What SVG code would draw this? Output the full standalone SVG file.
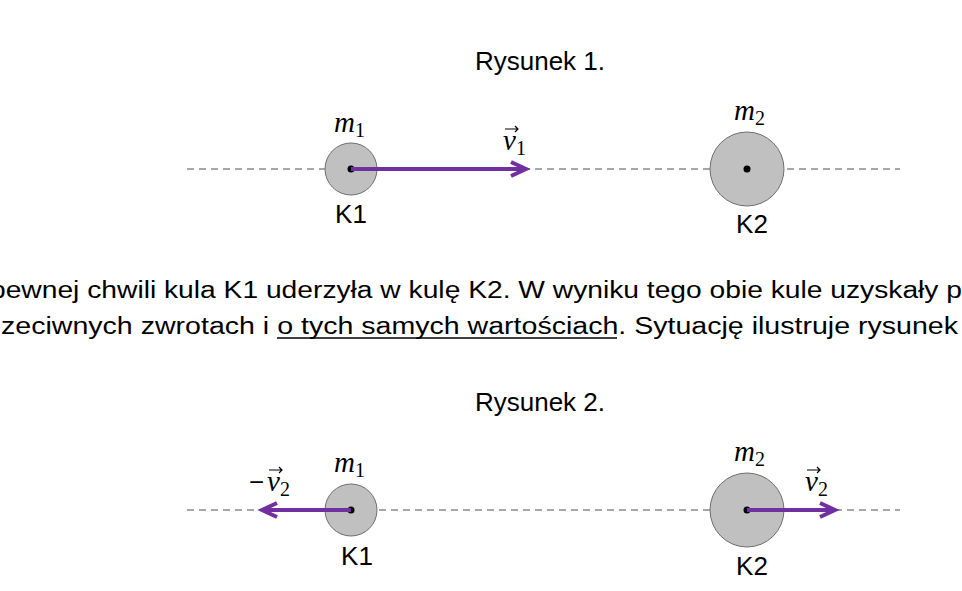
<svg xmlns="http://www.w3.org/2000/svg" width="962" height="591" viewBox="0 0 962 591">
<style>
.t{font-family:"Liberation Sans",Arial,sans-serif;font-size:23px;fill:#000}
.h{font-size:26px}
.m{font-family:"Liberation Serif","DejaVu Serif",serif;font-style:italic;font-size:29px;fill:#000}
.s{font-size:20px;font-style:normal}
.ball{fill:#c0c0c0;stroke:#6e6e6e;stroke-width:1}
.axis{stroke:#8a8a8a;stroke-width:1.3;stroke-dasharray:7,5;fill:none}
.vec{stroke:#7030a0;stroke-width:4;fill:none}
.va{stroke:#000;stroke-width:1.2;fill:none}
</style>
<defs>
<marker id="ah" markerWidth="20" markerHeight="20" refX="0" refY="0" orient="auto" markerUnits="userSpaceOnUse" viewBox="-20 -10 20 20" style="overflow:visible"><path d="M-15,-7 L0,0 L-15,7" fill="none" stroke="#7030a0" stroke-width="4" stroke-linejoin="miter"/></marker>
</defs>
<rect width="962" height="591" fill="#fff"/>
<text class="t h" x="540" y="70" text-anchor="middle">Rysunek 1.</text>
<text class="t h" x="540" y="411" text-anchor="middle">Rysunek 2.</text>
<text class="t" x="-10" y="298" textLength="972" lengthAdjust="spacingAndGlyphs">pewnej chwili kula K1 uderzyła w kulę K2. W wyniku tego obie kule uzyskały p</text>
<text class="t" x="1" y="334" textLength="957" lengthAdjust="spacingAndGlyphs">zeciwnych zwrotach i o tych samych wartościach. Sytuację ilustruje rysunek</text>
<line x1="277" y1="338" x2="617" y2="338" stroke="#000" stroke-width="1.5"/>
<g id="axes">
<line class="axis" x1="187" y1="169" x2="900" y2="169"/>
<line class="axis" x1="187" y1="510" x2="900" y2="510"/>
</g>
<g id="k1a"><circle class="ball" cx="351" cy="169" r="26"/><circle cx="351" cy="169" r="3.5"/>
<text class="t h" x="351" y="223" text-anchor="middle">K1</text>
<text class="m" x="334" y="132">m<tspan class="s" dy="5">1</tspan></text></g>
<g id="k2a"><circle class="ball" cx="747" cy="169" r="37"/><circle cx="747" cy="169" r="3.5"/>
<text class="t h" x="752" y="233" text-anchor="middle">K2</text>
<text class="m" x="734" y="120">m<tspan class="s" dy="5">2</tspan></text></g>
<g id="k1b"><circle class="ball" cx="351" cy="510" r="26"/><circle cx="351" cy="510" r="3.5"/>
<text class="t h" x="357" y="565" text-anchor="middle">K1</text>
<text class="m" x="334" y="472">m<tspan class="s" dy="5">1</tspan></text></g>
<g id="k2b"><circle class="ball" cx="747" cy="510" r="37"/><circle cx="747" cy="510" r="3.5"/>
<text class="t h" x="752" y="575" text-anchor="middle">K2</text>
<text class="m" x="734" y="461">m<tspan class="s" dy="5">2</tspan></text></g>
<g id="connectors">
<path class="vec" d="M351,169 H526" marker-end="url(#ah)"/>
<path class="vec" d="M351,510 H262" marker-end="url(#ah)"/>
<path class="vec" d="M747,510 H835" marker-end="url(#ah)"/>
</g>
<g id="vlabels">
<text class="m" x="503" y="150">v<tspan class="s" dy="5">1</tspan></text>
<path class="va" d="M505,129 H518 M515,126 L518,129 L515,132"/>
<text class="t" x="249" y="491" style="font-size:26px">−</text>
<text class="m" x="267" y="491">v<tspan class="s" dy="5">2</tspan></text>
<path class="va" d="M269,470 H282 M279,467 L282,470 L279,473"/>
<text class="m" x="805" y="491">v<tspan class="s" dy="5">2</tspan></text>
<path class="va" d="M807,470 H820 M817,467 L820,470 L817,473"/>
</g>
</svg>
